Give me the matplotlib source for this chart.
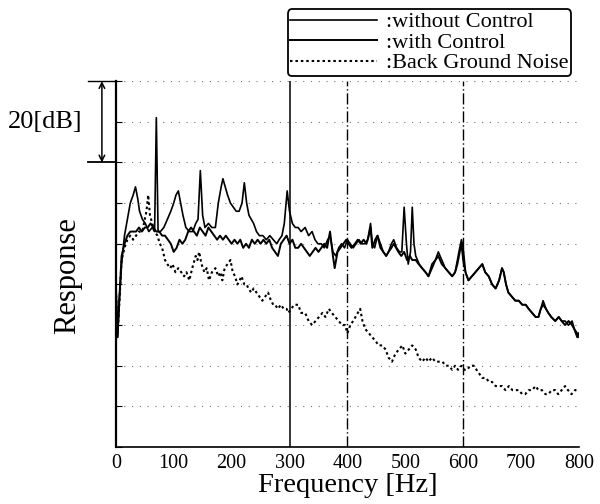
import matplotlib
matplotlib.use("Agg")
import matplotlib.pyplot as plt
import matplotlib.transforms as mtransforms

# 周波数 [Hz] と応答 [dB]
f_wo = [0, 3, 6, 10, 15, 20, 25, 30, 34, 38, 41, 46, 51, 57, 63, 67, 70, 73, 77, 83, 89, 95, 100, 104,
        108, 112, 116, 121, 127, 133, 138, 142, 146, 150, 154, 160, 166, 172, 177, 182, 185, 189, 193,
        198, 203, 208, 213, 218, 222, 226, 230, 234, 238, 243, 248, 254, 260, 266, 272, 278, 282, 287,
        291, 296, 300, 305, 310, 315, 320, 327, 333, 339, 344, 349,
        355, 360, 366, 370, 375, 380, 385, 390, 395, 400, 405, 410, 415, 420, 425, 430, 435, 440, 443,
        447, 452, 457, 462, 467, 471, 476, 480, 485, 490, 494, 498, 502, 505, 509, 512, 515, 518, 524,
        529, 535, 540, 546, 552, 557, 563, 569, 575, 581, 586, 590, 594, 597, 600, 604, 609, 615, 621,
        627, 633, 638, 644, 650, 656, 662, 667, 670, 674, 678, 684, 690, 696, 702, 708, 713, 719, 725,
        730, 734, 738, 743, 747, 752, 759, 765, 770, 776, 782, 788, 792, 797, 800]
wo = [40, 27, 36, 45, 52, 56, 60, 62, 64, 61, 58, 56, 55, 53, 54, 53, 81, 53, 53, 54, 56, 58, 60, 62,
      63, 60, 57, 54, 53, 53, 55, 56, 68, 57, 54, 55, 54, 54, 60, 64, 66, 64, 62,
      60, 59, 58, 58, 60, 65, 60, 57, 56, 55, 53, 52, 52, 51, 52, 51, 50, 51, 52,
      55, 63, 58, 55, 54, 54, 53, 54, 52, 53, 51, 50,
      50, 49, 51, 52, 48, 47, 49, 50, 49, 51, 50, 49, 50, 51, 50, 50, 51, 55, 50,
      49, 52, 50, 48, 47, 48, 50, 51, 49, 48, 48, 59, 50, 45, 48, 59, 50, 47, 45,
      44, 43, 42, 45, 46, 48, 46, 44, 43, 42, 43, 46, 49, 51, 49, 43, 41, 42, 43,
      44, 45, 43, 42, 40, 39, 41, 44, 43, 40, 38, 37, 36, 36, 35, 35, 34, 33, 32,
      32, 34, 36, 34, 33, 32, 31, 32, 31, 31, 30, 31, 29, 28, 27]

f_wc = [0, 3, 6, 10, 15, 20, 25, 30, 35, 40, 45, 50, 55, 60, 65, 70, 75, 80, 85, 90, 95, 100, 105,
        110, 115, 120, 125, 130, 135, 140, 145, 150, 155, 160, 165, 170, 175, 180, 185, 190, 195, 200,
        205, 210, 215, 220, 225, 230, 235, 240, 245, 250, 255, 260, 265, 270, 275, 280, 285, 290, 295,
        300, 305, 310, 315, 320, 325, 330, 335, 340, 345, 350, 355, 360, 365, 370, 375, 378, 383, 388,
        393, 398, 402, 407, 413, 418, 423, 428, 433, 437, 440, 443, 448, 452, 457, 462, 467, 471, 476,
        480, 484, 488, 493, 498, 503, 508, 512, 518, 523, 529, 535, 540, 546, 552, 557, 563, 569, 575,
        581, 586, 590, 594, 597, 600, 604, 609, 615, 621, 627, 633, 638, 644, 650, 656, 662, 667, 670,
        674, 678, 684, 690, 696, 702, 708, 713, 719, 725, 730, 734, 738, 743, 747, 752, 759, 765, 770,
        776, 782, 788, 792, 797, 800]
wc = [40, 27, 36, 47, 50, 52, 53, 53, 53, 54, 53, 54, 54, 55, 54, 53, 53, 52, 52, 51, 50, 48, 49,
      51, 50, 51, 53, 54, 53, 52, 54, 53, 52, 54, 53, 52, 51, 52, 51, 52, 51, 50,
      51, 50, 51, 49, 50, 49, 51, 50, 51, 50, 51, 50, 51, 49, 48, 47, 50, 51, 52,
      50, 51, 49, 49, 50, 49, 48, 47, 48, 49, 48, 49, 50, 49, 53, 47, 44, 48, 49,
      50, 51, 50, 49, 50, 51, 50, 51, 50, 52, 54, 49, 51, 52, 49, 48, 47, 48, 49,
      50, 49, 48, 47, 48, 46, 47, 46, 46, 45, 44, 43, 42, 44, 46, 47, 45, 44, 43,
      42, 43, 45, 48, 50, 46, 43, 41, 42, 43, 44, 45, 43, 42, 40, 39, 41, 44, 43,
      40, 38, 37, 36, 36, 35, 35, 34, 33, 32, 32, 34, 35, 34, 33, 32, 31, 32, 31,
      30, 31, 30, 29, 27, 28]

f_bg = [0, 3, 6, 10, 15, 20, 25, 30, 35, 40, 46, 50, 53, 56, 59, 63, 67, 72, 76, 80, 85, 89, 94, 98,
        103, 108, 113, 118, 122, 127, 132, 138, 141, 144, 148, 153, 157, 161, 166, 172, 177, 181, 184,
        188, 193, 198, 202, 206, 210, 214, 217, 222, 226, 229, 234, 238, 243, 248, 253, 258, 263, 268,
        272, 275, 280, 285, 290, 295, 298, 303, 308, 312, 315, 320, 327, 333, 339, 345, 351, 357, 362,
        368, 373, 379, 385, 391, 396, 400, 405, 410, 414, 418, 422, 426, 431, 437, 443, 449, 454, 460,
        466, 471, 477, 483, 489, 495, 500, 506, 512, 518, 523, 529, 535, 540, 546, 552, 558, 564, 570,
        575, 581, 586, 591, 597, 602, 607, 612, 618, 623, 628, 633, 639, 645, 650, 656, 661, 667, 673,
        679, 685, 690, 696, 702, 707, 713, 719, 725, 730, 736, 742, 747, 753, 759, 764, 770, 776, 781,
        787, 793, 797, 800]
bg = [40, 28, 35, 46, 49, 51, 52, 51, 52, 53, 53, 56, 58, 62, 57, 55, 53, 52, 50, 49, 46, 45, 44, 45,
      43, 44, 43, 42, 43, 41, 44, 47, 46, 48, 45, 43, 44, 41, 43, 44, 42, 43, 41,
      44, 45, 46, 43, 42, 40, 41, 42, 40, 40, 39, 38, 39, 38, 37, 36, 37, 38, 36,
      35, 35, 34, 35, 34, 34, 33, 34, 35, 35, 35, 33, 33, 31, 30, 31, 32, 33, 32,
      34, 33, 32, 31, 30, 30, 28, 30, 31, 32, 33, 34, 31, 29, 28, 27, 26, 25, 25,
      24, 22, 21, 23, 24, 25, 23, 24, 25, 24, 22, 21, 22, 21, 22, 21, 21, 21, 20,
      20, 19, 20, 19, 20, 19, 19, 20, 20, 19, 18, 17, 17, 16, 16, 15, 15, 15, 14,
      15, 14, 14, 14, 13, 13, 14, 14, 15, 14, 14, 13, 13, 14, 14, 13, 14, 15, 14,
      13, 14, 14, 14]

x_ticks = [0, 100, 200, 300, 400, 500, 600, 700, 800]
y_ticks = [0, 10, 20, 30, 40, 50, 60, 70, 80, 90]

plt.rcParams['font.family'] = ['Liberation Serif', 'DejaVu Serif']

fig = plt.figure(figsize=(6, 5.04), dpi=100)
ax = fig.add_axes([0.193, 0.113, 0.772, 0.726])

l1, = ax.plot(f_wo, wo, color='black', lw=1.2, label=':without Control')
l2, = ax.plot(f_wc, wc, color='black', lw=1.4, label=':with Control')
l3, = ax.plot(f_bg, bg, color='black', lw=1.5, linestyle=(0, (1.2, 1.4)), label=':Back Ground Noise')

# 目盛り線 (点線) と縦線
for y in y_ticks[1:]:
    ax.axhline(y, color='0.45', lw=0.8, linestyle=(0, (1, 6)), zorder=0)
ax.axvline(300, color='black', lw=1.1)
ax.axvline(400, color='black', lw=1.0, linestyle=(0, (8, 2, 1, 2)))
ax.axvline(600, color='black', lw=1.0, linestyle=(0, (8, 2, 1, 2)))

ax.set_xlim(0, 800)
ax.set_ylim(0, 90)
ax.set_xticks(x_ticks)
ax.set_yticks(y_ticks)
ax.set_yticklabels([])
ax.tick_params(direction='in', length=4, labelsize=14.5)
ax.tick_params(axis='x', length=0, pad=5)
for s in ['top', 'right']:
    ax.spines[s].set_visible(False)
ax.spines['left'].set_linewidth(1.6)
ax.spines['bottom'].set_linewidth(1.2)

ax.set_xlabel('Frequency [Hz]', fontsize=20.5, labelpad=0)
ax.set_ylabel('Response', fontsize=22)
ax.yaxis.set_label_coords(-0.073, 0.47)

# 20[dB] のスケール
trans = mtransforms.blended_transform_factory(ax.transAxes, ax.transData)
ax.plot([-0.06, 0], [90, 90], color='black', lw=1.0, transform=trans, clip_on=False)
ax.plot([-0.06, 0], [70, 70], color='black', lw=1.3, transform=trans, clip_on=False)
ax.annotate('', xy=(-0.03, 90), xytext=(-0.03, 70), xycoords=trans, textcoords=trans,
            arrowprops=dict(arrowstyle='<->', color='black', lw=1.1, shrinkA=0, shrinkB=0))
ax.text(-0.072, 80, '20[dB]', transform=trans, ha='right', va='center', fontsize=19)

leg = fig.legend(handles=[l1, l2, l3], loc='upper right', bbox_to_anchor=(0.952, 0.982),
                 fontsize=16, handlelength=3.9, handletextpad=0.4, labelspacing=0.0,
                 borderpad=0.12, borderaxespad=0.0, fancybox=True, framealpha=1, edgecolor='black')
leg.get_frame().set_linewidth(1.3)

fig.savefig('out.png', dpi=100)
